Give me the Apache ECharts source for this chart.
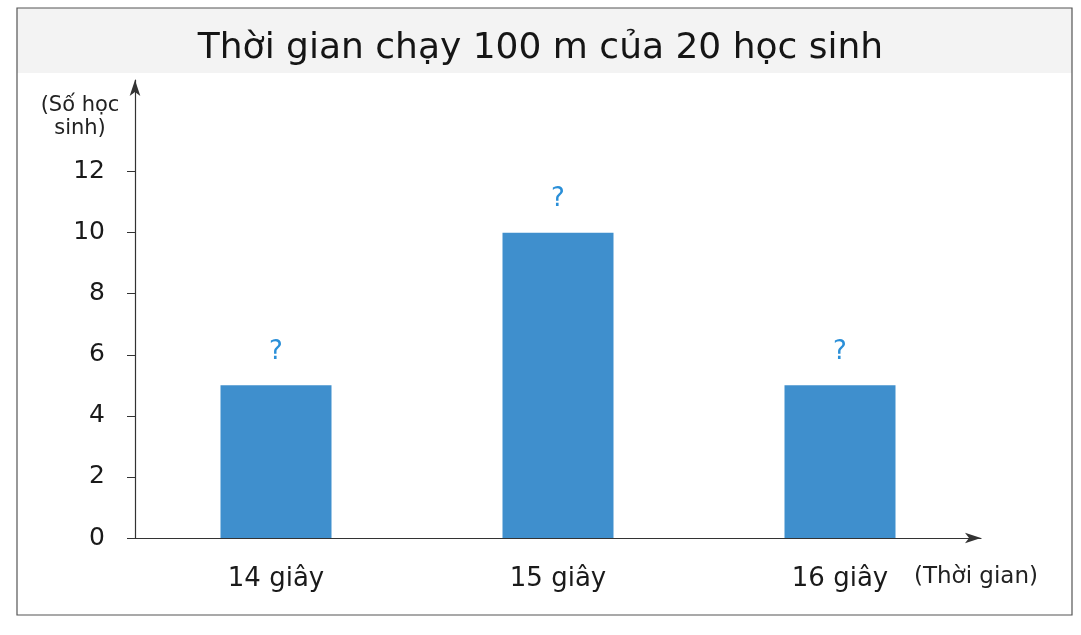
<!DOCTYPE html>
<html>
<head>
<meta charset="utf-8">
<script src="https://cdn.jsdelivr.net/npm/echarts@6/dist/echarts.min.js"></script>
<style>
  html, body { margin: 0; padding: 0; background: #fff; }
  #chart { width: 1081px; height: 635px; }
</style>
</head>
<body>
<div id="chart"></div>
<script>
var categories = ['14 giây', '15 giây', '16 giây'];
var counts = [5, 10, 5];
var barLabels = ['?', '?', '?'];
var yTicks = [0, 2, 4, 6, 8, 10, 12];

var myChart = echarts.init(document.getElementById('chart'));
var font = 'DejaVu Sans';

var option = {
    backgroundColor: '#fff',
    animation: false,
    title: {
        text: 'Thời gian chạy 100 m của 20 học sinh',
        left: 'center',
        top: 26,
        textStyle: { fontFamily: font, fontSize: 36, fontWeight: 'normal', color: '#151515' }
    },
    grid: { left: 135, right: 100, top: 80, bottom: 97 },
    xAxis: {
        type: 'category',
        data: categories,
        axisLine: {
            show: true,
            symbol: ['none', 'arrow'],
            symbolSize: [8, 16],
            lineStyle: { color: '#333', width: 1.2 }
        },
        axisTick: { show: false },
        axisLabel: { fontFamily: font, fontSize: 26, color: '#1a1a1a', margin: 28 }
    },
    yAxis: {
        type: 'value',
        min: 0,
        max: 15,
        splitLine: { show: false },
        axisLine: {
            show: true,
            symbol: ['none', 'arrow'],
            symbolSize: [8, 16],
            lineStyle: { color: '#333', width: 1.2 }
        },
        axisTick: { show: true, length: 8, customValues: yTicks, lineStyle: { color: '#333' } },
        axisLabel: { fontFamily: font, fontSize: 25, color: '#1a1a1a', margin: 30, customValues: yTicks }
    },
    series: [{
        type: 'bar',
        data: counts,
        barWidth: 111,
        itemStyle: { color: '#3f8fcd' },
        label: {
            show: true,
            position: 'top',
            distance: 20,
            formatter: function (p) { return barLabels[p.dataIndex]; },
            fontFamily: font,
            fontSize: 26,
            color: '#2a8fd8'
        }
    }],
    graphic: [
        {
            type: 'rect', z: -1,
            shape: { x: 17, y: 8, width: 1055, height: 65 },
            style: { fill: '#f3f3f3' }
        },
        {
            type: 'rect', z: 100,
            shape: { x: 17, y: 8, width: 1055, height: 607 },
            style: { fill: null, stroke: '#555', lineWidth: 1.2 }
        },
        {
            type: 'text', x: 80, y: 94,
            style: { text: '(Số học\nsinh)', align: 'center', fontFamily: font, fontSize: 21, lineHeight: 23, fill: '#222' }
        },
        {
            type: 'text', left: 914, top: 566,
            style: { text: '(Thời gian)', fontFamily: font, fontSize: 23, fill: '#222' }
        }
    ]
};

myChart.setOption(option);
</script>
</body>
</html>
